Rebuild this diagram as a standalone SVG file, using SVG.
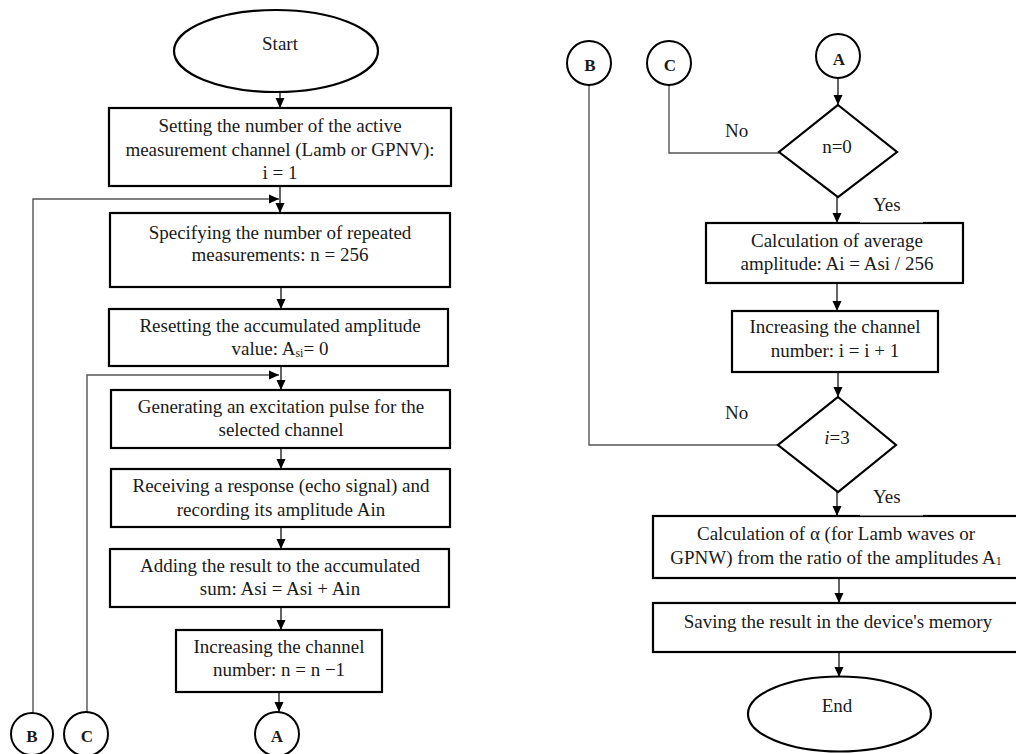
<svg xmlns="http://www.w3.org/2000/svg" width="1016" height="754" viewBox="0 0 1016 754">
<defs>
<marker id="arr" markerUnits="userSpaceOnUse" markerWidth="10" markerHeight="10" refX="10" refY="5" orient="auto">
<path d="M0,0.5 L10,5 L0,9.5 z" fill="#000"/>
</marker>
</defs>
<style>
text{font-family:"Liberation Serif","Times New Roman",serif;font-size:19px;fill:#1a1a1a;text-anchor:middle}
.box{fill:#fff;stroke:#000;stroke-width:2.2}
.circ{fill:#fff;stroke:#000;stroke-width:2}
.lbl{font-weight:bold;font-size:17px}
.con{fill:none;stroke:#111;stroke-width:1.3}
.loop{fill:none;stroke:#555;stroke-width:1.4}
.side{text-anchor:start}
</style>
<rect width="1016" height="754" fill="#fff"/>

<g id="connectors">
<line class="con" x1="280" y1="92" x2="280" y2="108" marker-end="url(#arr)"/>
<line class="con" x1="280" y1="186" x2="280" y2="213" marker-end="url(#arr)"/>
<polyline class="loop" points="33,712 33,199 279,199" marker-end="url(#arr)"/>
<line class="con" x1="281" y1="287" x2="281" y2="309" marker-end="url(#arr)"/>
<line class="con" x1="281" y1="366" x2="281" y2="390" marker-end="url(#arr)"/>
<polyline class="loop" points="87,712 87,375 279,375" marker-end="url(#arr)"/>
<line class="con" x1="281" y1="448" x2="281" y2="469" marker-end="url(#arr)"/>
<line class="con" x1="281" y1="527" x2="281" y2="549" marker-end="url(#arr)"/>
<line class="con" x1="281" y1="607" x2="281" y2="630" marker-end="url(#arr)"/>
<line class="con" x1="279" y1="692" x2="279" y2="712" marker-end="url(#arr)"/>
<line class="con" x1="838" y1="78" x2="838" y2="105" marker-end="url(#arr)"/>
<polyline class="loop" points="669,85 669,153 779,153"/>
<line class="con" x1="837" y1="197" x2="837" y2="223" marker-end="url(#arr)"/>
<line class="con" x1="837" y1="283" x2="837" y2="311" marker-end="url(#arr)"/>
<line class="con" x1="838" y1="372" x2="838" y2="397" marker-end="url(#arr)"/>
<polyline class="loop" points="589,85 589,445 778,445"/>
<line class="con" x1="837" y1="492" x2="837" y2="516" marker-end="url(#arr)"/>
<line class="con" x1="839" y1="578" x2="839" y2="603" marker-end="url(#arr)"/>
<line class="con" x1="839" y1="652" x2="839" y2="677" marker-end="url(#arr)"/>
</g>

<g id="start"><ellipse class="box" cx="276" cy="51" rx="102" ry="41"/><text x="280" y="50">Start</text></g>

<g id="setChannel"><rect class="box" x="109" y="108" width="342" height="78"/>
<text x="280" y="132">Setting the number of the active</text>
<text x="280" y="156">measurement channel (Lamb or GPNV):</text>
<text x="280" y="179">i = 1</text></g>

<g id="specifyN"><rect class="box" x="110" y="213" width="340" height="74"/>
<text x="280" y="239">Specifying the number of repeated</text>
<text x="280" y="261">measurements: n = 256</text></g>

<g id="reset"><rect class="box" x="109" y="309" width="339" height="57"/>
<text x="280" y="332">Resetting the accumulated amplitude</text>
<text x="280" y="355">value: A<tspan font-size="12" dy="2">si</tspan><tspan dy="-2">= 0</tspan></text></g>

<g id="generate"><rect class="box" x="111" y="390" width="339" height="58"/>
<text x="281" y="413">Generating an excitation pulse for the</text>
<text x="281" y="436">selected  channel</text></g>

<g id="receive"><rect class="box" x="111" y="469" width="339" height="58"/>
<text x="281" y="492">Receiving a response (echo signal) and</text>
<text x="281" y="516">recording its amplitude Ain</text></g>

<g id="adding"><rect class="box" x="110" y="549" width="339" height="58"/>
<text x="280" y="572">Adding the result to the accumulated</text>
<text x="280" y="595">sum: Asi = Asi + Ain</text></g>

<g id="decN"><rect class="box" x="176" y="630" width="206" height="62"/>
<text x="279" y="653">Increasing the channel</text>
<text x="279" y="676">number: n = n −1</text></g>

<g id="connB1"><circle class="circ" cx="32" cy="734" r="21"/><text class="lbl" x="32" y="742">B</text></g>
<g id="connC1"><circle class="circ" cx="86" cy="734" r="22"/><text class="lbl" x="87" y="742">C</text></g>
<g id="connA1"><circle class="circ" cx="277" cy="734" r="22"/><text class="lbl" x="277" y="742">A</text></g>

<g id="connB2"><circle class="circ" cx="589" cy="63" r="22"/><text class="lbl" x="590" y="71">B</text></g>
<g id="connC2"><circle class="circ" cx="669" cy="63" r="22"/><text class="lbl" x="670" y="71">C</text></g>
<g id="connA2"><circle class="circ" cx="838" cy="56" r="22"/><text class="lbl" x="839" y="65">A</text></g>

<g id="decisionN0"><polygon class="box" points="838,105 897,152 838,197 779,152"/>
<text x="837" y="153">n=0</text>
<text class="side" x="725" y="137">No</text>
<text class="side" x="873" y="211">Yes</text></g>

<g id="average"><rect class="box" x="706" y="223" width="257" height="60"/>
<rect x="860" y="220.5" width="63" height="2" fill="#fff"/>
<text x="837" y="247">Calculation of average</text>
<text x="837" y="270">amplitude: Ai = Asi / 256</text></g>

<g id="incI"><rect class="box" x="732" y="311" width="206" height="61"/>
<text x="835" y="333">Increasing the channel</text>
<text x="835" y="357">number: i = i + 1</text></g>

<g id="decisionI3"><polygon class="box" points="838,397 896,445 838,492 778,445"/>
<text x="837" y="444"><tspan font-style="italic">i</tspan>=3</text>
<text class="side" x="725" y="419">No</text>
<text class="side" x="873" y="503">Yes</text></g>

<g id="alpha"><rect class="box" x="653" y="516" width="370" height="62"/>
<rect x="860" y="513.5" width="63" height="2" fill="#fff"/>
<text x="836" y="540">Calculation of α (for Lamb waves or</text>
<text x="836" y="564">GPNW) from the ratio of the amplitudes A<tspan font-size="12" dy="1">1</tspan></text></g>

<g id="save"><rect class="box" x="653" y="603" width="370" height="49"/>
<text x="838" y="628">Saving the result in the device's memory</text></g>

<g id="end"><ellipse class="box" cx="839.5" cy="714" rx="91.5" ry="37.5"/><text x="837" y="712">End</text></g>
</svg>
